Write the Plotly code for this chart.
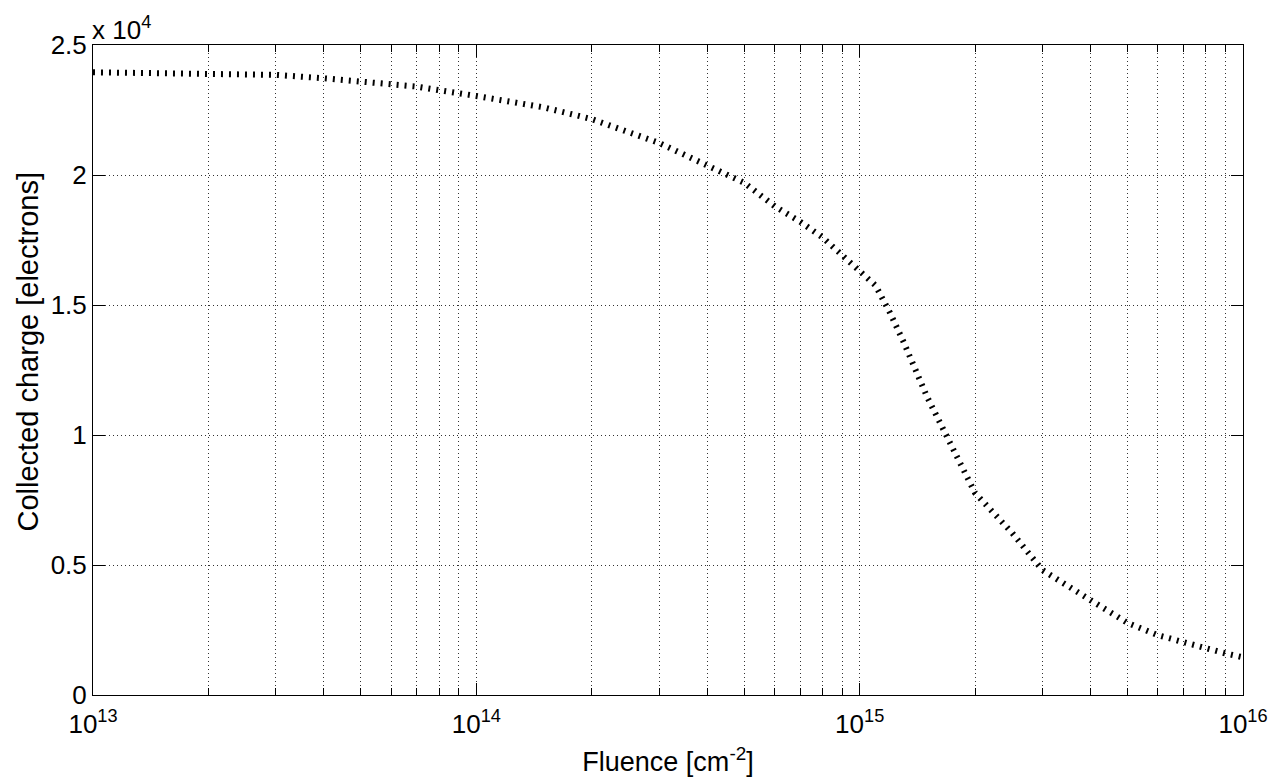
import plotly.graph_objects as go

# Data
fluence = [1e13, 2e13, 3e13, 4e13, 5e13, 6e13, 7e13, 8e13, 9e13, 1e14,
           1.5e14, 2e14, 3e14, 4e14, 5e14, 6e14, 7e14, 8e14, 9e14, 1e15,
           1.1e15, 1.2e15, 1.3e15, 1.5e15, 1.7e15, 2e15, 2.5e15, 3e15,
           4e15, 5e15, 6e15, 7e15, 8e15, 9e15, 1e16]
charge = [23950, 23900, 23850, 23720, 23600, 23500, 23400, 23260, 23150, 23040,
          22600, 22150, 21230, 20400, 19700, 18800, 18200, 17600, 16900, 16300,
          15750, 14700, 13600, 11460, 9850, 7770, 6230, 4800,
          3650, 2770, 2300, 2000, 1800, 1600, 1450]

ytick_vals = [0, 5000, 10000, 15000, 20000, 25000]
ytick_text = ["0", "0.5", "1", "1.5", "2", "2.5"]
xtick_vals = [1e13, 1e14, 1e15, 1e16]
xtick_text = ["10<sup>13</sup>", "10<sup>14</sup>", "10<sup>15</sup>", "10<sup>16</sup>"]

FONT = "Arial, Liberation Sans, Helvetica, sans-serif"

fig = go.Figure()
fig.add_trace(go.Scatter(
    x=fluence, y=charge, mode="lines",
    line=dict(color="black", width=6, dash="2px,6px"),
    showlegend=False, hoverinfo="skip",
))

grid_common = dict(showgrid=True, gridcolor="#333", gridwidth=1, griddash="1px,3px")

fig.update_layout(
    width=1268, height=777,
    margin=dict(l=93, r=25, t=45, b=82),
    paper_bgcolor="white", plot_bgcolor="white",
    font=dict(family=FONT, size=26, color="black"),
    xaxis=dict(
        type="log", range=[13, 16], automargin=False,
        tickvals=xtick_vals, ticktext=xtick_text,
        ticks="inside", ticklen=12, tickwidth=1, tickcolor="black",
        showline=True, linecolor="black", linewidth=1, mirror="ticks",
        zeroline=False, ticklabelstandoff=6,
        minor=dict(dtick="D1", ticks="inside", ticklen=7, tickcolor="black",
                   showgrid=True, gridcolor="#333", gridwidth=1, griddash="1px,3px"),
        title=dict(text="Fluence [cm<sup>-2</sup>]", font=dict(size=27), standoff=22),
        tickfont=dict(size=26),
        **grid_common,
    ),
    yaxis=dict(
        range=[0, 25000], automargin=False,
        tickvals=ytick_vals, ticktext=ytick_text,
        ticks="inside", ticklen=12, tickwidth=1, tickcolor="black",
        showline=True, linecolor="black", linewidth=1, mirror="ticks",
        zeroline=False,
        tickfont=dict(size=26),
        **grid_common,
    ),
    annotations=[
        dict(text="x 10<sup>4</sup>", xref="paper", yref="paper", x=0, y=1,
             xanchor="left", yanchor="bottom", showarrow=False,
             font=dict(size=26, family=FONT), xshift=-3, yshift=-2),
        dict(text="Collected charge [electrons]", xref="paper", yref="paper",
             x=-0.0565, y=0.527, xanchor="center", yanchor="middle",
             textangle=-90, showarrow=False, font=dict(size=29, family=FONT)),
    ],
)

fig.write_html("out.html")
